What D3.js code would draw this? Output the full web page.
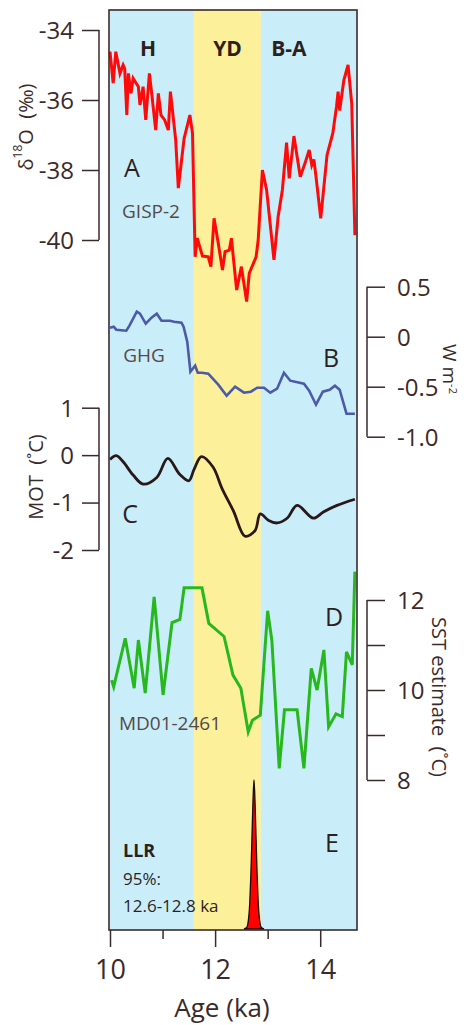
<!DOCTYPE html>
<html><head><meta charset="utf-8">
<script src="https://cdn.jsdelivr.net/npm/d3@7"></script>
<style>
html,body{margin:0;padding:0;background:#fff;}
svg text{font-family:"Open Sans","Noto Sans",sans-serif;}
</style></head>
<body>
<svg id="c" width="464" height="1025"></svg>
<script>
// ---------- DATA ----------
const periods = [
  {name:"H",  start:10.0,  end:11.6},
  {name:"YD", start:11.6,  end:12.87},
  {name:"B-A",start:12.87, end:14.7}
];
// A: GISP-2 d18O
const gispAge = [10.00,10.06,10.11,10.19,10.25,10.28,10.32,10.35,10.40,10.44,10.54,10.57,10.63,10.68,10.75,10.80,10.87,10.92,10.97,11.04,11.11,11.15,11.25,11.30,11.41,11.52,11.57,11.62,11.66,11.76,11.87,11.92,11.98,12.06,12.14,12.19,12.27,12.31,12.41,12.50,12.60,12.65,12.78,12.82,12.90,12.98,13.12,13.20,13.28,13.36,13.41,13.50,13.62,13.71,13.79,13.84,13.88,13.92,14.01,14.13,14.24,14.31,14.34,14.37,14.45,14.53,14.60,14.66];
const gispVal = [-34.62,-35.52,-34.62,-35.24,-35.00,-35.10,-36.43,-35.24,-35.81,-35.38,-35.62,-36.14,-35.62,-36.57,-35.24,-35.90,-36.86,-35.81,-36.43,-36.57,-36.86,-35.76,-37.14,-38.52,-37.10,-36.43,-36.95,-40.48,-39.95,-40.46,-40.48,-40.76,-39.38,-40.09,-40.86,-40.33,-40.29,-39.95,-41.43,-40.76,-41.76,-40.95,-40.48,-40.00,-38.00,-38.57,-40.57,-39.33,-38.57,-37.22,-38.24,-37.03,-38.19,-37.81,-37.43,-37.86,-37.70,-38.19,-39.38,-37.57,-36.95,-36.19,-35.76,-36.30,-35.43,-35.00,-36.10,-39.86];
// B: GHG forcing (W m-2)
const ghgAge = [10.00,10.07,10.12,10.31,10.37,10.51,10.57,10.68,10.79,10.89,10.98,11.14,11.22,11.36,11.40,11.47,11.53,11.62,11.67,11.75,11.87,12.06,12.22,12.38,12.55,12.68,12.80,12.93,13.05,13.18,13.31,13.43,13.69,13.79,13.92,14.05,14.18,14.28,14.37,14.50,14.60,14.66];
const ghgVal = [0.09,0.10,0.07,0.06,0.11,0.25,0.23,0.13,0.19,0.23,0.16,0.16,0.15,0.14,0.10,-0.05,-0.35,-0.29,-0.36,-0.36,-0.37,-0.48,-0.59,-0.50,-0.56,-0.55,-0.51,-0.51,-0.56,-0.52,-0.36,-0.44,-0.47,-0.54,-0.68,-0.55,-0.53,-0.49,-0.53,-0.77,-0.77,-0.77];
// C: MOT (degC)
const motAge = [10.00,10.12,10.25,10.44,10.63,10.89,11.10,11.33,11.50,11.60,11.74,11.96,12.13,12.35,12.57,12.76,12.86,13.02,13.18,13.37,13.56,13.87,14.06,14.32,14.66];
const motVal = [-0.09,-0.01,-0.14,-0.42,-0.61,-0.47,-0.07,-0.41,-0.54,-0.30,-0.03,-0.25,-0.70,-1.18,-1.71,-1.59,-1.24,-1.38,-1.43,-1.33,-1.06,-1.33,-1.20,-1.06,-0.93];
// D: SST estimate MD01-2461 (degC)
const sstAge = [10.03,10.07,10.29,10.46,10.54,10.67,10.84,11.01,11.18,11.33,11.41,11.75,11.88,12.17,12.34,12.49,12.63,12.71,12.86,13.00,13.08,13.22,13.32,13.56,13.69,13.83,13.94,14.07,14.16,14.30,14.42,14.50,14.61,14.66];
const sstVal = [10.22,10.07,11.15,10.04,11.11,9.93,12.07,9.89,11.50,11.57,12.27,12.27,11.48,11.19,10.33,10.04,9.07,9.33,9.44,11.76,11.10,8.26,9.56,9.56,8.26,10.48,10.00,10.89,9.18,9.47,9.41,10.85,10.56,12.63];
// E: LLR probability
const llrAge = [12.55,12.60,12.62,12.64,12.66,12.68,12.70,12.72,12.74,12.76,12.78,12.80,12.82,12.84,12.86,12.88,12.93];
const llrVal = [0.000,0.010,0.030,0.080,0.180,0.360,0.600,0.850,1.000,0.850,0.600,0.360,0.180,0.080,0.030,0.010,0.000];
// tick labels
const xTicksMajor = [10,12,14];
const xTicksMinor = [11,13];
const aTicks = [-34,-36,-38,-40];
const bTicks = [0.5,0,-0.5,-1.0];
const bTickLabels = ["0.5","0","-0.5","-1.0"];
const cTicks = [1,0,-1,-2];
const dTicks = [12,11,10,9,8];
const dTickLabels = {12:"12",10:"10",8:"8"};

// ---------- LAYOUT ----------
const svg = d3.select("#c");
const ink = "#3b2a2a";
const frame = {l:109, r:357, t:10, b:930};
const x = d3.scaleLinear().domain([10,14.7]).range([110,357]);
const yA = d3.scaleLinear().domain([-40,-34]).range([240,30]);
const yB = d3.scaleLinear().domain([-1,0.5]).range([436.7,286.7]);
const yC = d3.scaleLinear().domain([-2,1]).range([550,407.7]);
const yD = d3.scaleLinear().domain([8,12]).range([780,600]);
const yE = d3.scaleLinear().domain([0,1]).range([929,780]);

// bands
svg.append("g").selectAll("rect").data(periods).join("rect")
  .attr("x", d=>Math.max(frame.l, x(d.start)))
  .attr("width", d=>Math.min(frame.r, x(d.end)) - Math.max(frame.l, x(d.start)))
  .attr("y", frame.t).attr("height", frame.b-frame.t)
  .attr("fill", d=>d.name==="YD" ? "#fdf09b" : "#c9eefa");

// period labels
svg.append("g").selectAll("text").data(periods).join("text")
  .attr("x", d=>d.name==="H" ? 148 : (x(d.start)+Math.min(x(d.end),frame.r))/2 - (d.name==="B-A"?20:0))
  .attr("y", 48).attr("text-anchor","middle").attr("dominant-baseline","central")
  .attr("font-size",21).attr("font-weight","bold").attr("fill","#2e1f1f")
  .text(d=>d.name);

// lines
function drawLine(ages, vals, ys, color, w, curve){
  const data = ages.map((a,i)=>[a, vals[i]]);
  svg.append("path").datum(data)
    .attr("fill","none").attr("stroke",color).attr("stroke-width",w)
    .attr("stroke-linejoin","miter").attr("stroke-miterlimit",4)
    .attr("d", d3.line().x(d=>x(d[0])).y(d=>ys(d[1])).curve(curve||d3.curveLinear));
}
drawLine(gispAge, gispVal, yA, "#ff0a0a", 3);
drawLine(ghgAge, ghgVal, yB, "#4d5aa8", 2.6);
drawLine(motAge, motVal, yC, "#2a1818", 2.8, d3.curveCatmullRom.alpha(0.5));
drawLine(sstAge, sstVal, yD, "#27b81e", 3);

// E peak
const llr = llrAge.map((a,i)=>[a, llrVal[i]]);
svg.append("path").datum(llr)
  .attr("fill","#ff0000").attr("stroke","#1a0a0a").attr("stroke-width",1.3)
  .attr("d", d3.area().x(d=>x(d[0])).y0(yE(0)).y1(d=>yE(d[1])).curve(d3.curveMonotoneX));

// frame
svg.append("rect").attr("x",frame.l).attr("y",frame.t)
  .attr("width",frame.r-frame.l).attr("height",frame.b-frame.t)
  .attr("fill","none").attr("stroke",ink).attr("stroke-width",1.6);

// x axis
const gx = svg.append("g").attr("transform",`translate(0,${frame.b})`);
gx.call(d3.axisBottom(x).tickValues(xTicksMajor).tickSize(17).tickFormat(d3.format("d")))
  .call(g=>g.select(".domain").remove());
gx.selectAll(".tick line").attr("stroke",ink).attr("stroke-width",1.5);
gx.selectAll(".tick text").attr("font-size",27).attr("fill",ink).attr("dy",0).attr("y",49);
const gx2 = svg.append("g").attr("transform",`translate(0,${frame.b})`);
gx2.call(d3.axisBottom(x).tickValues(xTicksMinor).tickSize(9).tickFormat(""))
  .call(g=>g.select(".domain").remove());
gx2.selectAll(".tick line").attr("stroke",ink).attr("stroke-width",1.5);
svg.append("text").attr("x",222).attr("y",1017).attr("text-anchor","middle")
  .attr("font-size",26).attr("fill",ink).text("Age (ka)");

// axes helpers
function leftAxis(scale, ticks, fmt, xPos){
  const g = svg.append("g").attr("transform",`translate(${xPos},0)`);
  g.call(d3.axisLeft(scale).tickValues(ticks).tickSize(17).tickSizeOuter(0).tickPadding(8).tickFormat(fmt));
  g.select(".domain").attr("stroke",ink).attr("stroke-width",1.5).attr("d",`M0,${scale(ticks[0])}V${scale(ticks[ticks.length-1])}`);
  g.selectAll(".tick line").attr("stroke",ink).attr("stroke-width",1.5);
  g.selectAll(".tick text").attr("font-size",24).attr("fill",ink).attr("dy","0.35em");
  return g;
}
function rightAxis(scale, ticks, fmt, xPos){
  const g = svg.append("g").attr("transform",`translate(${xPos},0)`);
  g.call(d3.axisRight(scale).tickValues(ticks).tickSize(18).tickSizeOuter(0).tickPadding(12).tickFormat(fmt));
  g.select(".domain").attr("stroke",ink).attr("stroke-width",1.5).attr("d",`M0,${scale(ticks[0])}V${scale(ticks[ticks.length-1])}`);
  g.selectAll(".tick line").attr("stroke",ink).attr("stroke-width",1.5);
  g.selectAll(".tick text").attr("font-size",24).attr("fill",ink).attr("dy","0.35em");
  return g;
}
leftAxis(yA, aTicks, d=>String(d), 99);
rightAxis(yB, bTicks, (d,i)=>bTickLabels[i], 367);
leftAxis(yC, cTicks, d=>String(d), 99);
rightAxis(yD, dTicks, d=>dTickLabels[d]||"", 367);

// axis titles
const tA = svg.append("text").attr("transform","translate(25,127) rotate(-90)")
  .attr("text-anchor","middle").attr("dominant-baseline","central").attr("font-size",20).attr("fill",ink);
tA.append("tspan").text("δ");
tA.append("tspan").attr("font-size",12).attr("dy",-8).text("18");
tA.append("tspan").attr("dy",8).text("O\u00A0\u00A0(‰)");
svg.append("text").attr("transform","translate(35,477) rotate(-90)")
  .attr("text-anchor","middle").attr("dominant-baseline","central").attr("font-size",20).attr("fill",ink)
  .text("MOT\u00A0\u00A0(˚C)");
const tB = svg.append("text").attr("transform","translate(443,369) rotate(90)")
  .attr("text-anchor","middle").attr("font-size",19).attr("fill",ink);
tB.append("tspan").text("W m");
tB.append("tspan").attr("font-size",11).attr("dy",-6).text("-2");
svg.append("text").attr("transform","translate(439,697) rotate(90)")
  .attr("text-anchor","middle").attr("dominant-baseline","central").attr("font-size",20).attr("fill",ink)
  .text("SST estimate\u00A0\u00A0(˚C)");

// panel letters
const letters = [["A",132,167],["B",331,357],["C",130,513],["D",334,616],["E",332,842]];
svg.append("g").selectAll("text").data(letters).join("text")
  .attr("x",d=>d[1]).attr("y",d=>d[2]).attr("text-anchor","middle").attr("dominant-baseline","central")
  .attr("font-size",25).attr("fill","#2e1f1f").text(d=>d[0]);

// record names
const names = [["GISP-2",151,211],["GHG",144,355],["MD01-2461",170,723]];
svg.append("g").selectAll("text").data(names).join("text")
  .attr("x",d=>d[1]).attr("y",d=>d[2]).attr("text-anchor","middle").attr("dominant-baseline","central")
  .attr("font-size",19).attr("fill","#574848").text(d=>d[0]);

// LLR text
svg.append("text").attr("x",123).attr("y",850).attr("dominant-baseline","central")
  .attr("font-size",18).attr("font-weight","bold").attr("fill","#2e1f1f").text("LLR");
svg.append("text").attr("x",123).attr("y",878).attr("dominant-baseline","central")
  .attr("font-size",17).attr("fill","#2e1f1f").text("95%:");
svg.append("text").attr("x",123).attr("y",905).attr("dominant-baseline","central")
  .attr("font-size",17).attr("fill","#2e1f1f").text("12.6-12.8 ka");
</script>
</body></html>
